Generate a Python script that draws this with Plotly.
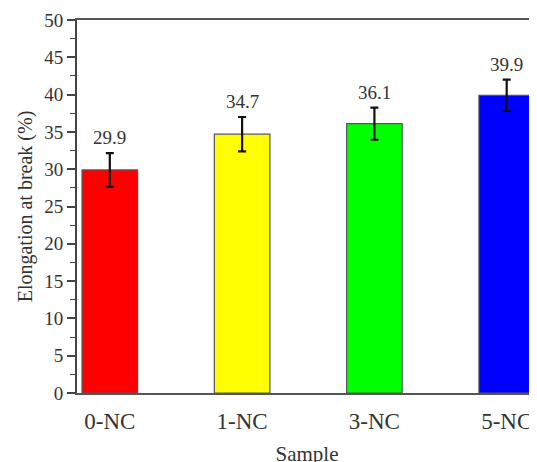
import plotly.graph_objects as go

samples = ["0-NC", "1-NC", "3-NC", "5-NC"]
elongation = [29.9, 34.7, 36.1, 39.9]
errors = [2.25, 2.3, 2.15, 2.1]
colors = ["#ff0000", "#ffff00", "#00ff00", "#0000ff"]
y_ticks = [0, 5, 10, 15, 20, 25, 30, 35, 40, 45, 50]

FONT = "Liberation Serif, Times New Roman, serif"

fig = go.Figure()
fig.add_trace(go.Bar(
    x=samples, y=elongation,
    width=0.42,
    marker=dict(color=colors, line=dict(color="#555555", width=1.2)),
    error_y=dict(type="data", array=errors, visible=True,
                 color="#111111", thickness=2.2, width=4),
    showlegend=False,
))

for s, v, e in zip(samples, elongation, errors):
    fig.add_annotation(x=s, y=v + e, text=f"{v:.1f}", showarrow=False,
                       yanchor="bottom", yshift=3,
                       font=dict(family=FONT, size=19, color="#333333"))

# page body has an 8px margin; compensate so the plot area lands at x=77..537, y=20..393
fig.update_layout(
    width=537, height=470,
    margin=dict(l=69, r=8, t=12, b=85),
    paper_bgcolor="white", plot_bgcolor="white",
    font=dict(family=FONT, size=19, color="#333333"),
)
fig.update_xaxes(
    range=[-0.248, 3.229], automargin=False,
    showline=True, linecolor="#555555", linewidth=2, mirror=True,
    ticks="", showgrid=False, zeroline=False,
    ticklabelstandoff=6,
    tickfont=dict(family=FONT, size=23, color="#333333"),
    title=dict(text="Sample", font=dict(family=FONT, size=21, color="#333333"), standoff=14),
)
fig.update_yaxes(
    range=[0, 50], tickvals=y_ticks, automargin=False,
    showline=True, linecolor="#444444", linewidth=2,
    ticks="outside", ticklen=8, tickwidth=1.5, tickcolor="#444444",
    minor=dict(ticks="outside", ticklen=5, tickwidth=1.2, tickcolor="#444444", dtick=2.5),
    showgrid=False, zeroline=False,
    tickfont=dict(family=FONT, size=19, color="#333333"),
    title=dict(text="Elongation at break (%)", font=dict(family=FONT, size=20, color="#333333"), standoff=6),
)

fig.write_html("out.html")
